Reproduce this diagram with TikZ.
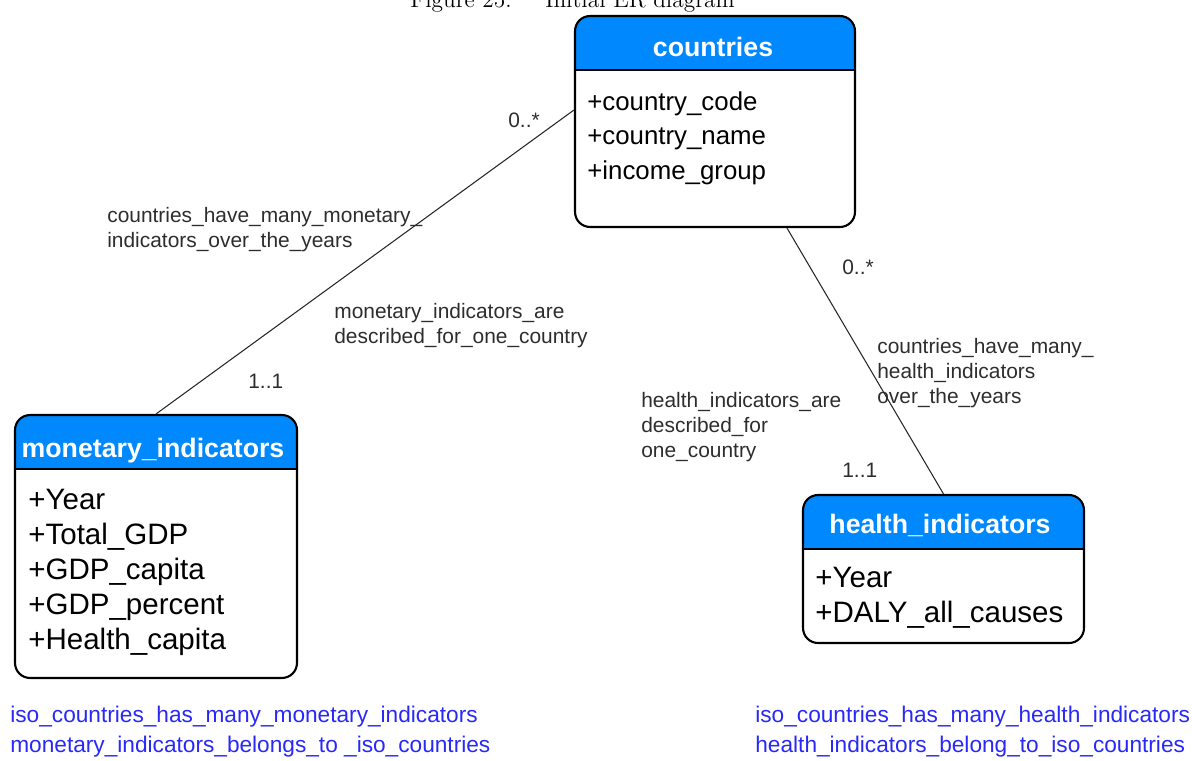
\documentclass[tikz,border=0pt]{standalone}
\usepackage{fontspec}
\newfontfamily\erfont{Liberation Sans}
\usepackage{tikz}
\usetikzlibrary{positioning, calc}

\definecolor{hdrblue}{RGB}{0,136,255}
\definecolor{relblue}{RGB}{40,40,250}
\definecolor{lblgray}{RGB}{45,45,45}

\tikzset{
  entity/.style={draw=black, line width=1.2pt, rounded corners=0.3cm, inner sep=0pt,
    path picture={
      \fill[hdrblue, sharp corners] (path picture bounding box.north west)
        rectangle ([yshift=-1.08cm]path picture bounding box.north east);
      \draw[line width=1.2pt, sharp corners] ([yshift=-1.08cm]path picture bounding box.north west)
        -- ([yshift=-1.08cm]path picture bounding box.north east);
    }},
  etitle/.style={anchor=base, inner sep=0pt, text=white, font=\erfont\bfseries\fontsize{15.2}{18}\selectfont},
  attrs/.style={anchor=north west, inner sep=0pt, align=left},
  conn/.style={draw=black!85, line width=0.6pt},
  lbl/.style={anchor=north west, inner sep=0pt, align=left, text=lblgray,
    font=\erfont\fontsize{11.9}{14.1}\selectfont},
  mult/.style={anchor=base west, inner sep=0pt, text=lblgray,
    font=\erfont\fontsize{11.9}{14.1}\selectfont},
  rel/.style={anchor=base west, inner sep=0pt, text=relblue,
    font=\erfont\fontsize{12.9}{15}\selectfont},
}

\begin{document}
\begin{tikzpicture}[x=0.02cm, y=-0.02cm]
  \useasboundingbox (0,0) rectangle (1192,760);

  % caption line of the page, cut by the top edge
  \node[anchor=base west, inner sep=0pt, font=\fontsize{13.3}{16}\selectfont] (cap) at (410,8)
    {Figure 25: \quad Initial ER diagram};

  % tables
  \node[entity, minimum width=5.6cm, minimum height=4.22cm] (countries) at (715,121.5) {};
  \node[etitle] (countries-t) at (713,57) {countries};
  \node[attrs, font=\erfont\fontsize{14.7}{19.8}\selectfont] (countries-a) at (587,91)
    {+country\_code\\+country\_name\\+income\_group};

  \node[entity, minimum width=5.64cm, minimum height=5.26cm] (monetary) at (156,546.5) {};
  \node[etitle] (monetary-t) at (153,457) {monetary\_indicators};
  \node[attrs, font=\erfont\fontsize{16.8}{19.9}\selectfont] (monetary-a) at (28,489)
    {+Year\\+Total\_GDP\\+GDP\_capita\\+GDP\_percent\\+Health\_capita};

  \node[entity, minimum width=5.62cm, minimum height=2.96cm] (health) at (943.5,569) {};
  \node[etitle] (health-t) at (940,533) {health\_indicators};
  \node[attrs, font=\erfont\fontsize{16.8}{19.8}\selectfont] (health-a) at (815,567)
    {+Year\\+DALY\_all\_causes};

  % associations
  \draw[conn] (monetary.north) -- ([yshift=0.23cm]countries.west);
  \draw[conn] ([xshift=1.44cm]countries.south) -- (health.north);

  % multiplicities and role names
  \node[mult] (m1) at (508,128) {0..*};
  \node[mult] (m2) at (248,388) {1..1};
  \node[mult] (m3) at (842,274) {0..*};
  \node[mult] (m4) at (842,477) {1..1};

  \node[lbl] (r1) at (107,207) {countries\_have\_many\_monetary\_\\indicators\_over\_the\_years};
  \node[lbl] (r2) at (334,303) {monetary\_indicators\_are\\described\_for\_one\_country};
  \node[lbl] (r3) at (877,338) {countries\_have\_many\_\\health\_indicators\\over\_the\_years};
  \node[lbl] (r4) at (641,392) {health\_indicators\_are\\described\_for\\one\_country};

  % relation names
  \node[rel] (n1) at (10,722) {iso\_countries\_has\_many\_monetary\_indicators};
  \node[rel] (n2) at (10,752) {monetary\_indicators\_belongs\_to \_iso\_countries};
  \node[rel] (n3) at (755,722) {iso\_countries\_has\_many\_health\_indicators};
  \node[rel] (n4) at (755,752) {health\_indicators\_belong\_to\_iso\_countries};
\end{tikzpicture}
\end{document}
